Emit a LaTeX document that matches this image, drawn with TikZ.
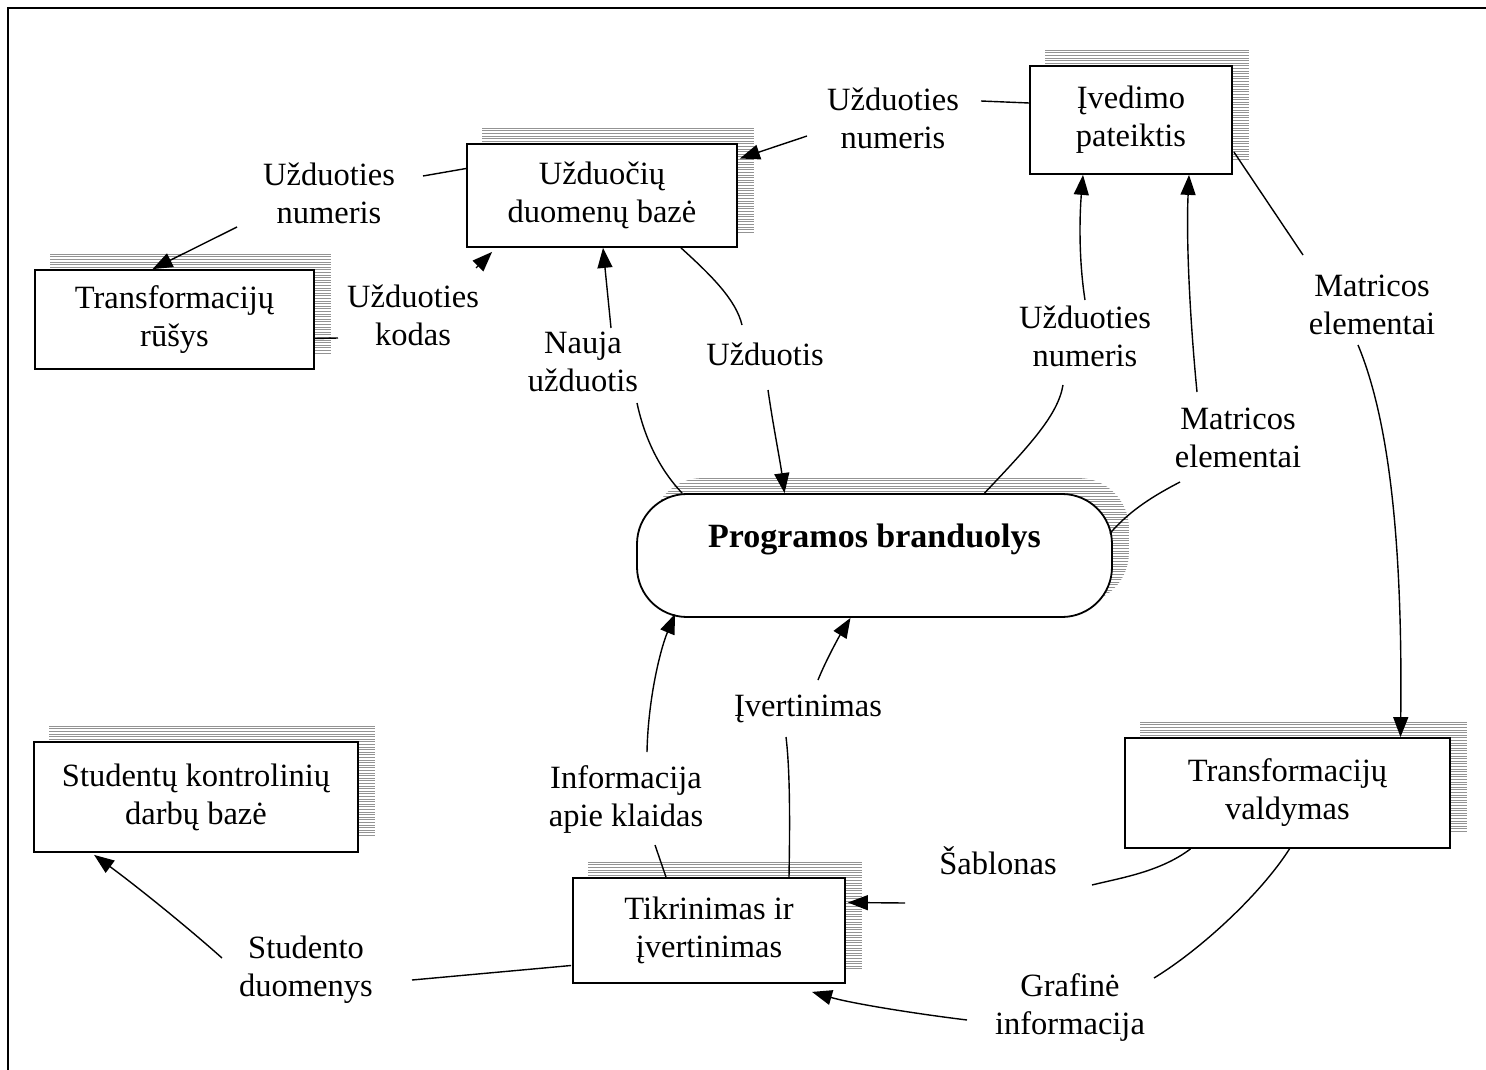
\documentclass[tikz,border=0pt]{standalone}
\usepackage{fontspec}
\setmainfont{Liberation Serif}
\usetikzlibrary{arrows.meta,calc,backgrounds}
\newcommand\dfdfont{\fontsize{32.5}{38}\selectfont}
\newcommand\corefont{\fontsize{34}{38}\selectfont\bfseries}
% hatched drop shade behind a node: #1 corner radius, #2 node name
\newcommand\hatchshade[2]{%
  \begin{scope}
    \clip[rounded corners=#1] ($(#2.north west)+(16,-15)$) rectangle ($(#2.south east)+(16,-15)$);
    \foreach \hh in {0,2.6,...,160}
      \draw[shadeline] ($(#2.north west)+(0,-20+\hh)$) -- ++(520,0);
  \end{scope}}
\begin{document}
\begin{tikzpicture}[x=1pt,y=-1pt,
  box/.style={draw,line width=1.8pt,fill=white,font=\dfdfont,align=center,inner sep=0pt},
  core/.style={box,rounded corners=50pt,font=\corefont,text height=24pt,text depth=41pt},
  lbl/.style={font=\dfdfont,align=center,inner sep=0pt},
  conn/.style={line width=1.4pt},
  arr/.style={conn,-{Triangle[length=20pt,width=15pt]}},
  shadeline/.style={gray!85,line width=0.9pt}]
\useasboundingbox (0,0) rectangle (1486,1070);

% frame
\draw[line width=2pt] (8,1070) -- (8,8) -- (1486,8);

% processes and stores
\node[box,minimum width=270pt,minimum height=103pt] (uzdb) at (602,195.5) {Užduočių\\duomenų bazė};
\node[box,minimum width=279pt,minimum height=99pt] (trus) at (174.5,319.5) {Transformacijų\\rūšys};
\node[box,minimum width=202pt,minimum height=108pt] (ived) at (1131,120) {Įvedimo\\pateiktis};
\node[core,minimum width=475pt,minimum height=123pt] (prog) at (874.5,555.5) {Programos branduolys};
\node[box,minimum width=325pt,minimum height=110pt] (trval) at (1287.5,793) {Transformacijų\\valdymas};
\node[box,minimum width=272pt,minimum height=105pt] (tikr) at (709,930.5) {Tikrinimas ir\\įvertinimas};
\node[box,minimum width=324pt,minimum height=110pt] (stud) at (196,797) {Studentų kontrolinių\\darbų bazė};

% hatched shades
\begin{pgfonlayer}{background}
  \hatchshade{0pt}{uzdb}
  \hatchshade{0pt}{trus}
  \hatchshade{0pt}{ived}
  \hatchshade{50pt}{prog}
  \hatchshade{0pt}{trval}
  \hatchshade{0pt}{tikr}
  \hatchshade{0pt}{stud}
\end{pgfonlayer}

% flow labels
\node[lbl] (L1) at (893,118) {Užduoties\\numeris};
\node[lbl] (L2) at (329,193) {Užduoties\\numeris};
\node[lbl] (L3) at (413,315) {Užduoties\\kodas};
\node[lbl] (L4) at (583,362) {Nauja\\užduotis};
\node[lbl] (L5) at (765,354) {Užduotis};
\node[lbl] (L6) at (1085,336) {Užduoties\\numeris};
\node[lbl] (L7) at (1238,438) {Matricos\\elementai};
\node[lbl] (L8) at (1372,305) {Matricos\\elementai};
\node[lbl] (L9) at (808,709) {Įvertinimas};
\node[lbl] (L10) at (626,800) {Informacija\\apie klaidas};
\node[lbl] (L11) at (998,861) {Šablonas};
\node[lbl] (L12) at (306,970) {Studento\\duomenys};
\node[lbl] (L13) at (1070,1008) {Grafinė\\informacija};

% flows
\draw[conn] ($(ived.west)+(0,-17)$) -- ($(L1)+(88,-17)$);
\draw[arr] ($(L1)+(-86,18)$) -- ($(uzdb.east)+(2,-37)$);

\draw[conn] ($(uzdb.west)+(0,-27)$) -- ($(L2)+(94,-17)$);
\draw[arr] ($(L2)+(-92,34)$) -- ($(trus.north)+(-22,0)$);

\draw[conn] ($(trus.east)+(0,19)$) -- ($(L3)+(-75,23)$);
\draw[arr] ($(L3)+(63,-47)$) -- ($(uzdb.south west)+(26,4)$);

\draw[conn] ($(L4)+(54,41)$) .. controls (646,445) and (664,474) .. ($(prog.north west)+(46,0)$);
\draw[arr] ($(L4)+(28,-34)$) -- ($(uzdb.south)+(1,0)$);

\draw[conn] ($(uzdb.south)+(79,0)$) .. controls (712,276) and (736,300) .. ($(L5)+(-23,-29)$);
\draw[arr] ($(L5)+(3,36)$) .. controls (773,425) and (780,460) .. ($(prog.north)+(-90,0)$);

\draw[conn] ($(prog.north)+(110,0)$) .. controls (1030,445) and (1058,415) .. ($(L6)+(-22,49)$);
\draw[arr] ($(L6)+(0,-36)$) .. controls (1078,255) and (1080,210) .. ($(ived.south)+(-48,0)$);

\draw[conn] ($(prog.east)+(-3,-22)$) .. controls (1130,510) and (1155,495) .. ($(L7)+(-58,44)$);
\draw[arr] ($(L7)+(-41,-46)$) .. controls (1190,320) and (1186,240) .. ($(ived.south)+(58,0)$);

\draw[conn] ($(ived.east)+(1,32)$) -- ($(L8)+(-69,-50)$);
\draw[arr] ($(L8)+(-14,40)$) .. controls (1385,410) and (1403,520) .. ($(trval.north)+(113,0)$);

\draw[conn] ($(trval.south)+(-97,0)$) .. controls (1160,872) and (1120,878) .. ($(L11)+(94,24)$);
\draw[arr] ($(L11)+(-93,42)$) -- ($(tikr.east)+(2,-28)$);

\draw[conn] ($(trval.south)+(2,0)$) .. controls (1260,895) and (1200,950) .. ($(L13)+(84,-30)$);
\draw[arr] ($(L13)+(-103,12)$) .. controls (910,1013) and (850,1003) .. ($(tikr.south)+(103,8)$);

\draw[conn] ($(tikr.north)+(-43,0)$) -- ($(L10)+(29,45)$);
\draw[arr] ($(L10)+(21,-48)$) .. controls (648,700) and (660,650) .. ($(prog.south west)+(39,-4)$);

\draw[conn] ($(tikr.north)+(80,0)$) .. controls (790,820) and (790,770) .. ($(L9)+(-22,28)$);
\draw[arr] ($(L9)+(10,-29)$) .. controls (826,660) and (840,635) .. ($(prog.south)+(-24,0)$);

\draw[conn] ($(tikr.west)+(-1,35)$) -- ($(L12)+(106,10)$);
\draw[arr] ($(L12)+(-84,-12)$) .. controls (185,925) and (135,885) .. ($(stud.south west)+(61,2)$);
\end{tikzpicture}
\end{document}
